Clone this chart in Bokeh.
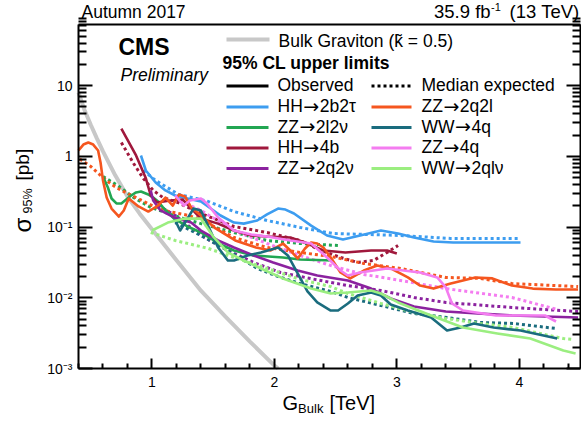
import math
from bokeh.plotting import figure
from bokeh.models import FixedTicker, CustomJSTickFormatter, Label, LogAxis, LinearAxis
from bokeh.embed import file_html
from bokeh.resources import INLINE

FONT = "Liberation Sans"

# ---------------- axis ticks ----------------
x_major_ticks = [1, 2, 3, 4]
x_minor_ticks = [0.4, 0.6, 0.8, 1.2, 1.4, 1.6, 1.8, 2.2, 2.4, 2.6, 2.8,
                 3.2, 3.4, 3.6, 3.8, 4.2, 4.4]
y_major_ticks = [0.001, 0.01, 0.1, 1, 10]
y_minor_ticks = [m * 10.0 ** e for e in range(-3, 2) for m in range(2, 10)]

# ---------------- data ----------------
grav_mass = [0.40, 0.45, 0.50, 0.55, 0.60, 0.70, 0.80, 0.90, 1.00, 1.20, 1.40, 1.60, 1.80, 2.00, 2.03]
grav_xsec = [8.0, 4.5, 2.8, 1.8, 1.18, 0.54, 0.27, 0.155, 0.093, 0.034, 0.0126, 0.0054, 0.0024, 0.0011, 0.001]

hh2b2t_obs_mass = [0.91, 0.95, 1.03, 1.11, 1.19, 1.29, 1.40, 1.48, 1.56, 1.67, 1.75, 1.86, 1.94, 2.03, 2.09,
                   2.16, 2.30, 2.43, 2.56, 2.70, 2.87, 3.01, 3.14, 3.30, 3.46, 3.68, 4.01]
hh2b2t_obs_limit = [1.03, 0.632, 0.428, 0.330, 0.280, 0.254, 0.230, 0.183, 0.146, 0.116, 0.112, 0.124, 0.151,
                    0.183, 0.177, 0.156, 0.105, 0.0761, 0.0668, 0.0761, 0.0895, 0.0812, 0.0713, 0.0626,
                    0.0606, 0.0606, 0.0606]
hh2b2t_exp_mass = [0.93, 0.99, 1.03, 1.11, 1.22, 1.36, 1.46, 1.67, 1.94, 2.21, 2.48, 2.76, 3.03, 3.44, 4.01]
hh2b2t_exp_limit = [0.632, 0.520, 0.457, 0.376, 0.289, 0.254, 0.230, 0.166, 0.124, 0.0989, 0.0812, 0.0787,
                    0.0761, 0.0690, 0.0690]

zz2q2l_obs_mass = [0.40, 0.44, 0.48, 0.52, 0.56, 0.58, 0.60, 0.63, 0.67, 0.73, 0.77, 0.81, 0.89, 0.97, 1.05,
                   1.11, 1.17, 1.22, 1.27, 1.32, 1.40, 1.52, 1.68, 1.85, 1.97, 2.07, 2.13, 2.19, 2.25, 2.30,
                   2.35, 2.40, 2.46, 2.54, 2.62, 2.73, 2.84, 2.95, 3.09, 3.19, 3.30, 3.44, 3.64, 3.78, 3.94,
                   4.11, 4.30, 4.48]
zz2q2l_obs_limit = [1.21, 1.47, 1.57, 1.47, 1.21, 0.820, 0.457, 0.262, 0.183, 0.141, 0.172, 0.254, 0.196,
                    0.166, 0.202, 0.262, 0.202, 0.289, 0.271, 0.190, 0.146, 0.0956, 0.0647, 0.0515, 0.0467,
                    0.0586, 0.0467, 0.0360, 0.0499, 0.0606, 0.0586, 0.0515, 0.0372, 0.0228, 0.0188, 0.0243,
                    0.0286, 0.0260, 0.0194, 0.0149, 0.0135, 0.0159, 0.0194, 0.0188, 0.0149, 0.0135, 0.0131,
                    0.0131]
zz2q2l_exp_mass = [0.41, 0.50, 0.58, 0.67, 0.75, 0.87, 1.00, 1.14, 1.30, 1.40, 1.67, 1.94, 2.21, 2.46, 2.73,
                   3.03, 3.40, 3.68, 3.94, 4.48]
zz2q2l_exp_limit = [0.92, 0.722, 0.537, 0.401, 0.330, 0.262, 0.202, 0.166, 0.146, 0.128, 0.0713, 0.0515,
                    0.0438, 0.0384, 0.0306, 0.0260, 0.0194, 0.0188, 0.0159, 0.0144]

zz2l2n_obs_mass = [0.60, 0.64, 0.67, 0.71, 0.75, 0.79, 0.83, 0.87, 0.91, 0.97, 1.01, 1.05, 1.09, 1.18, 1.29,
                   1.40, 1.56, 1.67, 1.83, 2.07, 2.21, 2.48]
zz2l2n_obs_limit = [0.520, 0.363, 0.254, 0.216, 0.216, 0.246, 0.280, 0.309, 0.319, 0.289, 0.262, 0.230,
                    0.190, 0.132, 0.102, 0.0839, 0.0568, 0.0467, 0.0397, 0.0372, 0.0348, 0.0337]
zz2l2n_exp_mass = [0.60, 0.72, 0.85, 0.99, 1.13, 1.26, 1.40, 1.67, 1.94, 2.21, 2.52]
zz2l2n_exp_limit = [0.520, 0.388, 0.262, 0.190, 0.156, 0.132, 0.112, 0.0839, 0.0647, 0.0586, 0.0549]

ww4q_obs_mass = [1.19, 1.23, 1.29, 1.34, 1.40, 1.45, 1.54, 1.62, 1.67, 1.78, 1.89, 2.03, 2.11, 2.19, 2.27,
                 2.35, 2.46, 2.52, 2.60, 2.68, 2.79, 2.87, 2.95, 3.09, 3.28, 3.41, 3.52, 3.63, 3.79, 4.01, 4.31]
ww4q_obs_limit = [0.124, 0.0895, 0.132, 0.183, 0.172, 0.112, 0.0515, 0.0337, 0.0337, 0.0397, 0.0438, 0.0515,
                  0.0397, 0.0221, 0.0123, 0.00859, 0.00661, 0.00661, 0.00832, 0.0108, 0.0119, 0.0108,
                  0.00804, 0.00661, 0.00527, 0.00345, 0.00380, 0.00434, 0.00380, 0.00345, 0.00265]
ww4q_exp_mass = [1.19, 1.40, 1.62, 1.86, 2.03, 2.21, 2.46, 2.60, 2.87, 3.14, 3.41, 3.68, 3.95, 4.30]
ww4q_exp_limit = [0.116, 0.0761, 0.0467, 0.0260, 0.0200, 0.0159, 0.0123, 0.0101, 0.00778, 0.00600,
                  0.00527, 0.00448, 0.00434, 0.00368]

hh4b_obs_mass = [0.75, 0.87, 0.95, 0.99, 1.04, 1.15, 1.25, 1.40, 1.54, 1.67, 1.81, 1.94, 2.13, 2.25, 2.40,
                 2.58, 2.79, 2.92, 3.00]
hh4b_obs_limit = [2.48, 1.03, 0.49, 0.28, 0.223, 0.238, 0.246, 0.132, 0.112, 0.0895, 0.0761, 0.0736, 0.0713,
                  0.0606, 0.0467, 0.0438, 0.0467, 0.0467, 0.0424]
hh4b_exp_mass = [0.75, 0.85, 0.93, 1.01, 1.09, 1.21, 1.40, 1.67, 1.94, 2.21, 2.38, 2.54, 2.68, 2.81, 2.92, 3.01]
hh4b_exp_limit = [1.57, 0.794, 0.488, 0.330, 0.262, 0.223, 0.156, 0.102, 0.0839, 0.0647, 0.0467, 0.0372,
                  0.0316, 0.0337, 0.0438, 0.0549]

zz4q_obs_mass = [1.19, 1.26, 1.31, 1.40, 1.45, 1.54, 1.67, 1.81, 1.94, 2.13, 2.30, 2.43, 2.54, 2.60, 2.70,
                 2.92, 3.19, 3.33, 3.40, 3.45, 3.54, 3.81, 4.21, 4.30]
zz4q_obs_limit = [0.280, 0.202, 0.238, 0.254, 0.216, 0.137, 0.0895, 0.0787, 0.0736, 0.0647, 0.0586, 0.0372,
                  0.0243, 0.0207, 0.0228, 0.0260, 0.0228, 0.0194, 0.0140, 0.00832, 0.00661, 0.00562,
                  0.00562, 0.00462]
zz4q_exp_mass = [1.19, 1.40, 1.67, 1.94, 2.21, 2.46, 2.73, 3.03, 3.40, 3.94, 4.31]
zz4q_exp_limit = [0.254, 0.172, 0.0895, 0.0586, 0.0397, 0.0286, 0.0214, 0.0176, 0.0135, 0.0101, 0.00684]

zz2q2n_obs_mass = [0.99, 1.01, 1.07, 1.18, 1.32, 1.40, 1.54, 1.67, 1.83, 1.99, 2.19, 2.35, 2.60, 2.79, 2.95,
                   3.14, 3.40, 3.94, 4.48]
zz2q2n_obs_limit = [0.330, 0.238, 0.172, 0.137, 0.116, 0.0895, 0.0647, 0.0515, 0.0397, 0.0316, 0.0243,
                    0.0207, 0.0176, 0.0135, 0.00977, 0.00753, 0.00640, 0.00562, 0.00527]
zz2q2n_exp_mass = [1.05, 1.19, 1.40, 1.62, 1.83, 2.05, 2.21, 2.46, 2.60, 2.87, 3.14, 3.40, 3.94, 4.48]
zz2q2n_exp_limit = [0.202, 0.146, 0.0761, 0.0467, 0.0316, 0.0228, 0.0200, 0.0165, 0.0149, 0.0127, 0.0101,
                    0.00859, 0.00729, 0.00640]

ww2qlv_obs_mass = [1.00, 1.13, 1.27, 1.40, 1.50, 1.62, 1.75, 1.89, 2.07, 2.30, 2.46, 2.60, 2.79, 2.87, 3.01,
                   3.28, 3.54, 3.82, 4.09, 4.36, 4.46]
ww2qlv_obs_limit = [0.0895, 0.116, 0.132, 0.132, 0.0736, 0.0438, 0.0337, 0.0260, 0.0188, 0.0135, 0.0115,
                    0.0119, 0.0127, 0.0115, 0.00859, 0.00562, 0.00380, 0.00313, 0.00265, 0.00180, 0.00163]
ww2qlv_exp_mass = [0.99, 1.19, 1.46, 1.67, 1.94, 2.21, 2.46, 2.60, 2.87, 3.14, 3.40, 3.68, 3.95, 4.36, 4.44]
ww2qlv_exp_limit = [0.0839, 0.0647, 0.0499, 0.0372, 0.0260, 0.0182, 0.0144, 0.0115, 0.00832, 0.00619,
                    0.00510, 0.00434, 0.00380, 0.00265, 0.00257]

channel_names = ["HH\u21922b2\u03c4", "ZZ\u21922l2\u03bd", "HH\u21924b", "ZZ\u21922q2\u03bd",
                 "ZZ\u21922q2l", "WW\u21924q", "ZZ\u21924q", "WW\u21922ql\u03bd"]
channel_colors = ["#3d9df0", "#22a652", "#a0183c", "#8b229f",
                  "#f5561f", "#1a6c7e", "#f47cf0", "#9bee80"]
channel_data = [
    (hh2b2t_obs_mass, hh2b2t_obs_limit, hh2b2t_exp_mass, hh2b2t_exp_limit),
    (zz2l2n_obs_mass, zz2l2n_obs_limit, zz2l2n_exp_mass, zz2l2n_exp_limit),
    (hh4b_obs_mass, hh4b_obs_limit, hh4b_exp_mass, hh4b_exp_limit),
    (zz2q2n_obs_mass, zz2q2n_obs_limit, zz2q2n_exp_mass, zz2q2n_exp_limit),
    (zz2q2l_obs_mass, zz2q2l_obs_limit, zz2q2l_exp_mass, zz2q2l_exp_limit),
    (ww4q_obs_mass, ww4q_obs_limit, ww4q_exp_mass, ww4q_exp_limit),
    (zz4q_obs_mass, zz4q_obs_limit, zz4q_exp_mass, zz4q_exp_limit),
    (ww2qlv_obs_mass, ww2qlv_obs_limit, ww2qlv_exp_mass, ww2qlv_exp_limit),
]

# ---------------- geometry ----------------
W, H = 581, 424
XMIN, XMAX = 0.4, 4.5          # axis box limits
YMIN, YMAX = 1e-3, 73.4
FL, FR, FT, FB = 78, 580, 24, 368   # axis box edges in page pixels


def dx(px):
    return XMIN + (px - FL) * (XMAX - XMIN) / (FR - FL)


def dy(py):
    ly0, ly1 = math.log10(YMIN), math.log10(YMAX)
    return 10 ** (ly0 + (FB - py) * (ly1 - ly0) / (FB - FT))


# the plotting frame covers the whole canvas; the axes are pinned to the box
p = figure(width=W, height=H, x_range=(dx(0), dx(W)), y_range=(dy(H), dy(0)),
           y_axis_type="log", output_backend="svg", toolbar_location=None,
           min_border=0, min_border_left=0, min_border_right=0,
           min_border_top=0, min_border_bottom=0)
p.background_fill_color = "white"
p.border_fill_color = "white"
p.outline_line_color = None
p.xgrid.visible = False
p.ygrid.visible = False


def style_axis(ax, major_in, minor_in):
    ax.axis_line_width = 2
    ax.axis_line_color = "black"
    ax.major_tick_in = major_in
    ax.major_tick_out = 0
    ax.minor_tick_in = minor_in
    ax.minor_tick_out = 0
    ax.major_tick_line_width = 2
    ax.minor_tick_line_width = 2
    ax.major_tick_line_color = "black"
    ax.minor_tick_line_color = "black"
    ax.major_label_text_font = FONT
    ax.major_label_text_font_size = "14px"
    ax.major_label_text_color = "black"


xa = p.xaxis[0]
xa.ticker = FixedTicker(ticks=x_major_ticks, minor_ticks=x_minor_ticks)
style_axis(xa, 10, 5)
xa.major_label_standoff = 8
xa.fixed_location = YMIN
xa.bounds = (XMIN, XMAX)

ya = p.yaxis[0]
ya.ticker = FixedTicker(ticks=y_major_ticks, minor_ticks=y_minor_ticks)
style_axis(ya, 14, 8)
ya.major_label_standoff = 6
ya.fixed_location = XMIN
ya.bounds = (YMIN, YMAX)
ya.formatter = CustomJSTickFormatter(code="""
const e = Math.round(Math.log10(tick));
if (e === 0) return "1";
if (e === 1) return "10";
const m = {"-": "\\u207b", "0": "\\u2070", "1": "\\u00b9", "2": "\\u00b2", "3": "\\u00b3"};
let s = "";
for (const c of String(e)) s += m[c];
return "10" + s;
""")

ra = LogAxis(ticker=FixedTicker(ticks=y_major_ticks, minor_ticks=y_minor_ticks),
             formatter=CustomJSTickFormatter(code="return '';"))
style_axis(ra, 14, 8)
ra.major_label_standoff = 0
ra.fixed_location = XMAX
ra.bounds = (YMIN, YMAX)
p.add_layout(ra, "right")

ta = LinearAxis(ticker=FixedTicker(ticks=[], minor_ticks=[]),
                formatter=CustomJSTickFormatter(code="return '';"))
style_axis(ta, 0, 0)
ta.fixed_location = YMAX
ta.bounds = (XMIN, XMAX)
p.add_layout(ta, "above")

# ---------------- curves ----------------
p.line(grav_mass, grav_xsec, line_color="#c8c8c8", line_width=4)

for color, (om, ol, em, el) in zip(channel_colors, channel_data):
    p.line(em, el, line_color=color, line_width=3, line_dash="3 3")
for color, (om, ol, em, el) in zip(channel_colors, channel_data):
    p.line(om, ol, line_color=color, line_width=2.6, line_join="round")


# ---------------- texts ----------------
# px/py give the page position of the text's alphabetic baseline start; the
# renderer centres text vertically on its anchor, so shift by ~0.35 em.
def txt(text, px, py, size, style="normal", align="left", angle=0.0, font=FONT):
    s = 0.35 * size
    if angle == 0.0:
        py = py - s
    else:
        px = px - s
    p.add_layout(Label(x=dx(px), y=dy(py), text=text, text_font=font,
                       text_font_size=f"{size}px", text_font_style=style,
                       text_align=align, text_baseline="alphabetic", angle=angle,
                       text_color="black"))


txt("Autumn 2017", 81, 17.5, 17.5)
txt("35.9 fb", 433.5, 17.5, 18.5)
txt("-1", 490.5, 10, 11)
txt("(13 TeV)", 579, 17.5, 18.5, align="right")

txt("CMS", 118, 55, 23, style="bold")
txt("Preliminary", 120, 81, 17.5, style="italic")

# axis titles
txt("G", 282, 409, 20)
txt("Bulk", 297.6, 413, 13)
txt("[TeV]", 329, 409, 20)
txt("\u03c3", 30, 232, 24, angle=math.pi / 2)
txt("95%", 32, 213, 12.5, angle=math.pi / 2)
txt("[pb]", 28.5, 180, 19, angle=math.pi / 2)

# legend
p.line([dx(226), dx(269)], [dy(39), dy(39)], line_color="#c8c8c8", line_width=4)
txt("Bulk Graviton (k\u0303 = 0.5)", 278, 46.5, 17.5)
txt("95% CL upper limits", 222, 68.5, 17.5, style="bold")

row_y = [85.5, 106.5, 127, 147.5, 168]
p.line([dx(226), dx(268)], [dy(row_y[0])] * 2, line_color="black", line_width=3)
txt("Observed", 277, row_y[0] + 5.5, 17.5)
p.line([dx(371), dx(411)], [dy(row_y[0])] * 2, line_color="black", line_width=3, line_dash="3 3")
txt("Median expected", 421, row_y[0] + 5.5, 17.5)

ADV = {"H": 0.722, "Z": 0.611, "W": 0.944}   # Helvetica advance widths (em)
for i, (name, color) in enumerate(zip(channel_names, channel_colors)):
    col, row = divmod(i, 4)
    yy = row_y[row + 1]
    x0, x1, xt = (226, 268, 277) if col == 0 else (371, 411, 421)
    p.line([dx(x0), dx(x1)], [dy(yy)] * 2, line_color=color, line_width=3)
    pre, post = name.split("\u2192")
    wpre = sum(ADV[c] for c in pre) * 17.5
    txt(pre, xt, yy + 5.5, 17.5)
    txt("\u2192", xt + wpre + 0.5, yy + 5.5, 19, font="DejaVu Sans")
    txt(post, xt + wpre + 1.0 + 0.838 * 19, yy + 5.5, 17.5)

open("out.html", "w").write(file_html(p, INLINE))
